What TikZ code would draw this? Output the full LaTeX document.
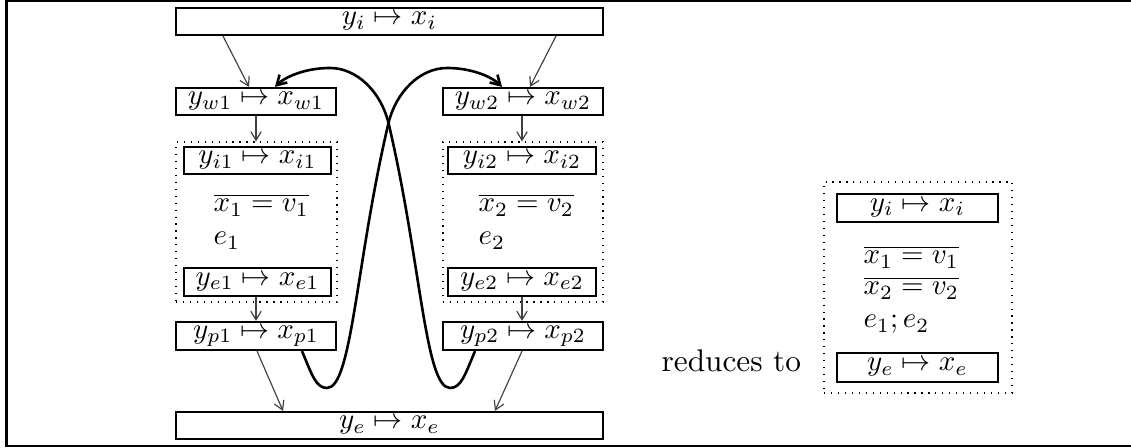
\documentclass[tikz,border=0pt]{standalone}
\usetikzlibrary{arrows.meta}
\begin{document}
\begin{tikzpicture}[x=0.345pt,y=-0.345pt,
  sz/.style 2 args={minimum width=#1*0.345pt,minimum height=#2*0.345pt},
  mbox/.style={draw,line width=0.75pt,inner sep=0pt},
  dbox/.style={draw,dotted,line width=0.4pt,inner sep=0pt},
  thin arrow/.style={draw=black!75,line width=0.4pt,-{Straight Barb[length=3pt,width=3.6pt]}},
  swap arrow/.style={draw=black,line width=0.9pt,-{Straight Barb[length=3.2pt,width=3.8pt]}},
  txt/.style={anchor=base west,inner sep=0pt}]
\useasboundingbox (0,0) rectangle (1131,448);
\draw[line width=0.7pt] (6.5,1) rectangle (1145,446);
% left diagram
\node[mbox,sz={427}{27}] (yi) at (389.5,21.5) {$y_i \mapsto x_i$};
\node[mbox,sz={160}{27}] (w1) at (256,101.5) {$y_{w1} \mapsto x_{w1}$};
\node[mbox,sz={160}{27}] (w2) at (523,101.5) {$y_{w2} \mapsto x_{w2}$};
\node[dbox,sz={161}{160}] (d1) at (256.5,222) {};
\node[dbox,sz={160}{160}] (d2) at (523,222) {};
\node[mbox,sz={147}{27}] (i1) at (257.5,160.5) {$y_{i1} \mapsto x_{i1}$};
\node[mbox,sz={147}{28}] (e1) at (257.5,282) {$y_{e1} \mapsto x_{e1}$};
\node[mbox,sz={148}{27}] (i2) at (522,160.5) {$y_{i2} \mapsto x_{i2}$};
\node[mbox,sz={148}{28}] (e2) at (522,282) {$y_{e2} \mapsto x_{e2}$};
\node[txt] (v1) at (213,212) {$\overline{x_1 = v_1}$};
\node[txt] (ee1) at (213,245) {$e_1$};
\node[txt] (v2) at (478,212) {$\overline{x_2 = v_2}$};
\node[txt] (ee2) at (478,245) {$e_2$};
\node[mbox,sz={160}{28}] (p1) at (256,336) {$y_{p1} \mapsto x_{p1}$};
\node[mbox,sz={160}{28}] (p2) at (523,336) {$y_{p2} \mapsto x_{p2}$};
\node[mbox,sz={427}{27}] (ye) at (389.5,425.5) {$y_e \mapsto x_e$};
% thin arrows
\draw[thin arrow] (223,0 |- yi.south) -- (249,0 |- w1.north);
\draw[thin arrow] (556,0 |- yi.south) -- (530,0 |- w2.north);
\draw[thin arrow] (256,0 |- w1.south) -- (256,0 |- d1.north);
\draw[thin arrow] (522,0 |- w2.south) -- (522,0 |- d2.north);
\draw[thin arrow] (256,0 |- e1.south) -- (256,0 |- p1.north);
\draw[thin arrow] (522,0 |- e2.south) -- (522,0 |- p2.north);
\draw[thin arrow] (257,0 |- p1.south) -- (283,0 |- ye.north);
\draw[thin arrow] (522,0 |- p2.south) -- (495,0 |- ye.north);
% crossing curves
\draw[swap arrow] (302,0 |- p1.south) .. controls (312,375) and (316,388) .. (327,388)
  .. controls (352,388) and (356,261) .. (388.5,123)
  .. controls (396,92) and (420,68) .. (447,68)
  .. controls (472,68) and (492,77) .. (502,0 |- w2.north);
\draw[swap arrow] (475,0 |- p2.south) .. controls (465,375) and (461,388) .. (450,388)
  .. controls (425,388) and (421,261) .. (388.5,123)
  .. controls (381,92) and (357,68) .. (330,68)
  .. controls (305,68) and (285,77) .. (275,0 |- w1.north);
% right diagram
\node[txt,font=\fontsize{10.8}{13}\selectfont] (red) at (661,372) {reduces to};
\node[dbox,sz={188}{211}] (rd) at (918,287.5) {};
\node[mbox,sz={161}{28}] (ri) at (917.5,208) {$y_i \mapsto x_i$};
\node[mbox,sz={161}{29}] (re) at (917.5,367.5) {$y_e \mapsto x_e$};
\node[txt] (rv1) at (863,264) {$\overline{x_1 = v_1}$};
\node[txt] (rv2) at (863,295) {$\overline{x_2 = v_2}$};
\node[txt] (ree) at (863,328) {$e_1; e_2$};
\end{tikzpicture}
\end{document}
